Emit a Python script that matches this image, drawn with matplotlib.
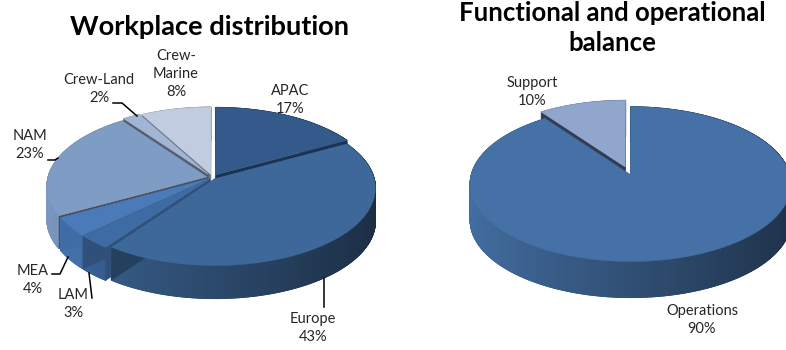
import numpy as np
import matplotlib
matplotlib.use("Agg")
import matplotlib.pyplot as plt
from matplotlib.collections import PolyCollection
from matplotlib.colors import to_rgb
from matplotlib.patches import Polygon

plt.rcParams["font.family"] = ["Lato", "DejaVu Sans"]

# Workplace distribution
regions = ["APAC", "Europe", "LAM", "MEA", "NAM", "Crew-Land", "Crew-\nMarine"]
region_share = [17, 43, 3, 4, 23, 2, 8]
region_colors = ["#335a8a", "#3e6899", "#3f6ba5", "#4a7ab8", "#7f9cc5", "#a3b5d5", "#c1cce0"]
region_cuts = ["#1b3252", "#24405f", "#2f5079", "#3f6ca5", "#4a4f5c", "#555c6c", "#6a7286"]
region_explode = [0.042, 0.022, 0.025, 0.025, 0.035, 0.05, 0.042]
region_order = [6, 0, 5, 4, 3, 2, 1]
region_label_xy = [(290, 100), (313, 328), (73, 304), (33, 280), (30, 145), (99, 89), (176, 74)]

# Functional and operational balance
functions = ["Operations", "Support"]
function_share = [90, 10]
function_colors = ["#4571a6", "#91a6cd"]
function_cuts = ["#2b4468", "#333c50"]
function_explode = [0.012, 0.1]
function_order = [1, 0]
function_label_xy = [(702, 320), (532, 92)]

# Leader lines, in pixel coordinates of the figure
leaders = [
    [(113, 103), (122, 103), (137, 116)],
    [(48, 160), (55, 160), (58, 158)],
    [(52, 274), (60, 274), (68, 257)],
    [(89, 273), (92, 298)],
    [(324, 278), (324, 307)],
]

KEEN = 0.12         # perspective strength of the disc
RX, RY = 159.0, 76.0  # disc radii on screen
TEXT = "#262626"


def project(u, v, cx, cy, dx=0.0, dy=0.0):
    """Map a point of the unit disc to the screen, far side compressed."""
    u, v = u + dx, v + dy
    d = 1 + KEEN * v
    return cx + RX * u / d, cy - RY * v / d


def shade(color, factor):
    return tuple(min(1, c * factor) for c in to_rgb(color))


def draw_pie(ax, shares, colors, cuts, explode, order, cx, cy, depth):
    edges = np.concatenate([[0], np.cumsum(shares)]) / np.sum(shares) * 2 * np.pi
    for i in order:
        a, b = edges[i], edges[i + 1]
        mid = (a + b) / 2
        dx, dy = explode[i] * np.sin(mid), explode[i] * np.cos(mid)
        th = np.linspace(a, b, max(8, int((b - a) * 240)))
        xs, ys = project(np.sin(th), np.cos(th), cx, cy, dx, dy)
        ax0, ay0 = project(0, 0, cx, cy, dx, dy)

        # Outer rim, shaded from left to right
        quads, tones = [], []
        for k in range(len(th) - 1):
            quads.append([(xs[k], ys[k]), (xs[k + 1], ys[k + 1]),
                          (xs[k + 1], ys[k + 1] + depth), (xs[k], ys[k] + depth)])
            tones.append(shade(colors[i], 0.7 - 0.27 * np.sin((th[k] + th[k + 1]) / 2)))
        ax.add_collection(PolyCollection(quads, facecolors=tones, edgecolors=tones, linewidths=0.8))

        # The two radial cut faces
        for x, y in ((xs[0], ys[0]), (xs[-1], ys[-1])):
            ax.add_patch(Polygon([(ax0, ay0), (x, y), (x, y + depth), (ax0, ay0 + depth)],
                                 closed=True, fc=cuts[i], ec=cuts[i], lw=0.3))

        # Top surface
        top = np.column_stack([np.r_[ax0, xs], np.r_[ay0, ys]])
        ax.add_patch(Polygon(top, closed=True, fc=colors[i], ec=colors[i], lw=0.3))


fig = plt.figure(figsize=(7.86, 3.5), dpi=100)
ax = fig.add_axes([0, 0, 1, 1])
ax.set_xlim(0, 786)
ax.set_ylim(350, 0)
ax.axis("off")

draw_pie(ax, region_share, region_colors, region_cuts, region_explode, region_order, 212.5, 177.5, 33)
draw_pie(ax, function_share, function_colors, function_cuts, function_explode, function_order, 630, 174, 36)

for pts in leaders:
    xy = np.array(pts)
    ax.plot(xy[:, 0], xy[:, 1], color="black", lw=1.1, solid_joinstyle="miter")

for name, share, (x, y) in zip(regions + functions, region_share + function_share,
                               region_label_xy + function_label_xy):
    ax.text(x, y, f"{name}\n{share}%", ha="center", va="center", fontsize=10.5,
            color=TEXT, linespacing=1.32)

ax.text(210, 27, "Workplace distribution", ha="center", va="center",
        fontsize=19.6, fontweight="bold", color="black")
ax.text(612, 28, "Functional and operational\nbalance", ha="center", va="center",
        fontsize=18.5, fontweight="bold", color="black", linespacing=1.28)

fig.savefig("out.png", dpi=100)
